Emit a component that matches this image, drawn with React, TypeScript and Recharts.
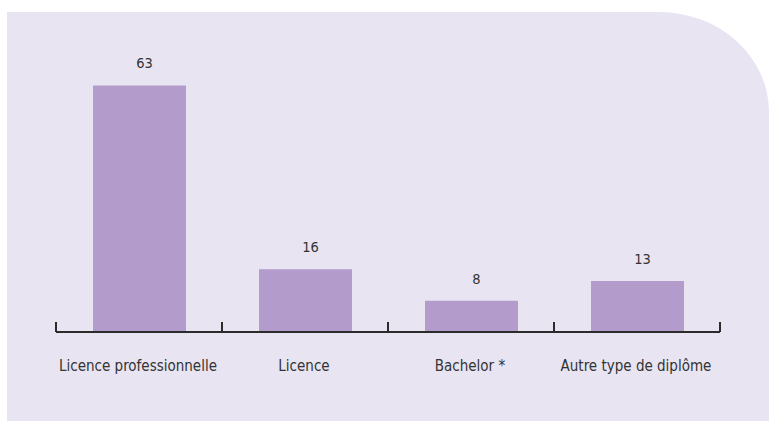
import { Bar, BarChart, LabelList, XAxis, YAxis } from "recharts";

const categories = ["Licence professionnelle", "Licence", "Bachelor *", "Autre type de diplôme"];
const shares = [63, 16, 8, 13];

const data = categories.map((name, i) => ({ name, value: shares[i] }));

const FONT = "'DejaVu Sans Condensed', 'DejaVu Sans', sans-serif";
const INK = "#2b2b2b";
const TEXT = "#333333";

function EdgeTick(props: any) {
  const { x, y, payload, index, visibleTicksCount } = props;
  const half = payload?.offset ?? 83;
  const last = index === (visibleTicksCount ?? 4) - 1;
  return (
    <g>
      <line x1={x - half} x2={x - half} y1={y} y2={y - 10} stroke={INK} strokeWidth={2} />
      {last && <line x1={x + half} x2={x + half} y1={y} y2={y - 10} stroke={INK} strokeWidth={2} />}
      <text x={x - 1} y={y + 39} textAnchor="middle" fontFamily={FONT} fontSize={15} fill={TEXT}>
        {payload.value}
      </text>
    </g>
  );
}

export default function App() {
  return (
    <div style={{ position: "absolute", left: 0, top: 0, width: 769, height: 425 }}>
      <div
        style={{
          position: "absolute",
          left: 7,
          top: 12,
          width: 762,
          height: 409,
          background: "#e8e4f2",
          borderTopRightRadius: "110px 100px",
        }}
      />
      <div style={{ position: "absolute", left: 0, top: 0 }}>
        <BarChart width={769} height={425} data={data} margin={{ top: 58, right: 49, bottom: 33, left: 56 }}>
          <YAxis hide domain={[0, 70]} width={0} />
          <XAxis
            dataKey="name"
            height={60}
            interval={0}
            tickLine={false}
            tickSize={0}
            tickMargin={0}
            axisLine={{ stroke: INK, strokeWidth: 2 }}
            tick={<EdgeTick />}
          />
          <Bar dataKey="value" fill="#b39bcb" barSize={93} isAnimationActive={false}>
            <LabelList dataKey="value" position="top" offset={17} dx={5} fontFamily={FONT} fontSize={14.5} fill={TEXT} />
          </Bar>
        </BarChart>
      </div>
    </div>
  );
}
